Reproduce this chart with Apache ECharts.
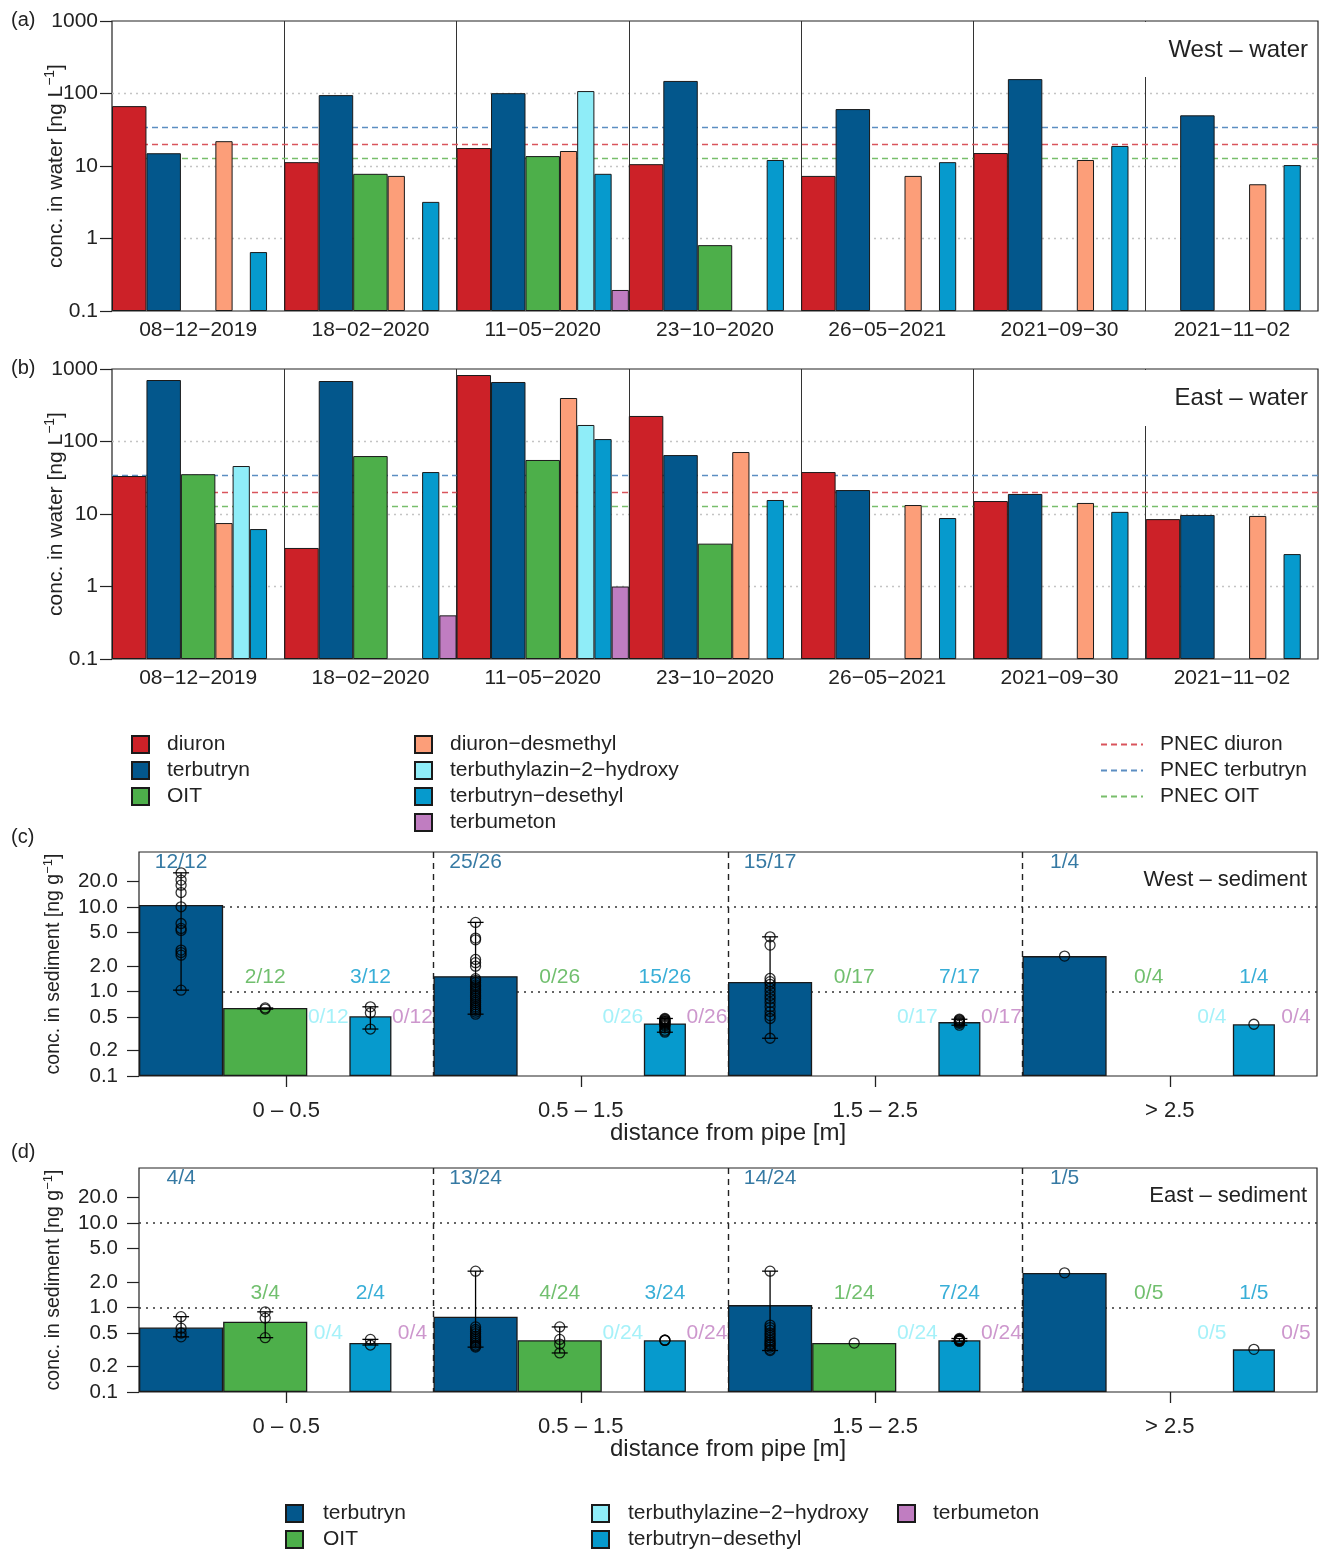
<!DOCTYPE html>
<html>
<head>
<meta charset="utf-8">
<script src="https://cdn.jsdelivr.net/npm/echarts@6.0.0/dist/echarts.min.js"></script>
<style>
  html, body { margin: 0; padding: 0; background: #fff; }
  #chart { width: 1325px; height: 1551px; }
</style>
</head>
<body>
<div id="chart"></div>
<script>
const FONT = 'Liberation Sans, Arial, sans-serif'

// ---- water panels (a) West, (b) East, ng/L ----
const waterDates = ['08−12−2019', '18−02−2020', '11−05−2020', '23−10−2020', '26−05−2021', '2021−09−30', '2021−11−02']
const waterTickLabels = ['0.1', '1', '10', '100', '1000']

const westDiuron = [67, 11.3, 17.7, 10.6, 7.3, 15.1, null]
const westTerbutryn = [15, 95, 101, 149, 61, 158, 50]
const westOIT = [null, 7.8, 13.7, 0.81, null, null, null]
const westDiuronDesmethyl = [22, 7.3, 16.1, null, 7.3, 12.1, 5.6]
const westTbzHydroxy = [null, null, 108, null, null, null, null]
const westDesethyl = [0.65, 3.2, 7.8, 12.1, 11.3, 18.9, 10.3]
const westTerbumeton = [null, null, 0.195, null, null, null, null]

const eastDiuron = [33.4, 3.4, 826, 225, 37.9, 15.1, 8.5]
const eastTerbutryn = [705, 683, 662, 65, 21.4, 18.9, 9.7]
const eastOIT = [35.4, 63, 55.6, 3.9, null, null, null]
const eastDiuronDesmethyl = [7.5, null, 398, 71.6, 13.3, 14.2, 9.4]
const eastTbzHydroxy = [45.9, null, 169, null, null, null, null]
const eastDesethyl = [6.2, 37.9, 108, 15.6, 8.8, 10.7, 2.8]
const eastTerbumeton = [null, 0.4, 1.0, null, null, null, null]

const pnecNames = ['PNEC diuron', 'PNEC terbutryn', 'PNEC OIT']
const pnecValues = [20, 34, 13]

// ---- sediment panels (c) West, (d) East, ng/g ----
const distCats = ['0 – 0.5', '0.5 – 1.5', '1.5 – 2.5', '> 2.5']
const sedTickValues = [0.1, 0.2, 0.5, 1, 2, 5, 10, 20]
const sedRefLines = [1, 10]

const westSedTerbutryn = [10.6, 1.52, 1.3, 2.63]
const westSedOIT = [0.64, null, null, null]
const westSedTbz = [null, null, null, null]
const westSedDesethyl = [0.51, 0.42, 0.435, 0.41]
const westSedTerbumeton = [null, null, null, null]

const eastSedTerbutryn = [0.58, 0.78, 1.07, 2.57]
const eastSedOIT = [0.68, 0.41, 0.38, null]
const eastSedTbz = [null, null, null, null]
const eastSedDesethyl = [0.38, 0.41, 0.41, 0.32]
const eastSedTerbumeton = [null, null, null, null]

// individual samples
const westPtsTerbutryn = [
  [25.5, 20.9, 18.2, 14.9, 10.1, 6.4, 5.6, 5.3, 3.1, 2.9, 2.7, 1.04],
  [6.6, 4.3, 4.1, 2.4, 2.2, 2.0, 1.42, 1.36, 1.28, 1.2, 1.14, 1.07, 1.02, 0.97, 0.91, 0.87, 0.83, 0.78, 0.74, 0.7, 0.66, 0.63, 0.6, 0.57, 0.54],
  [4.45, 3.55, 1.43, 1.31, 1.22, 1.1, 1.0, 0.9, 0.82, 0.74, 0.66, 0.58, 0.52, 0.48, 0.28],
  [2.63],
]
const westPtsOIT = [[0.62, 0.64], [], [], []]
const westPtsDesethyl = [
  [0.66, 0.56, 0.36],
  [0.48, 0.47, 0.46, 0.45, 0.44, 0.44, 0.43, 0.42, 0.41, 0.4, 0.39, 0.37, 0.35, 0.34, 0.33],
  [0.47, 0.46, 0.45, 0.44, 0.43, 0.42, 0.4],
  [0.41],
]
const eastPtsTerbutryn = [
  [0.78, 0.57, 0.5, 0.45],
  [2.7, 0.59, 0.55, 0.52, 0.49, 0.46, 0.44, 0.42, 0.4, 0.38, 0.36, 0.35, 0.34],
  [2.7, 0.62, 0.58, 0.54, 0.5, 0.47, 0.44, 0.41, 0.39, 0.37, 0.36, 0.34, 0.32, 0.31],
  [2.58],
]
const eastPtsOIT = [[0.89, 0.75, 0.44], [0.59, 0.42, 0.37, 0.29], [0.38], []]
const eastPtsDesethyl = [[0.42, 0.36], [0.41, 0.41, 0.41], [0.43, 0.42, 0.42, 0.41, 0.41, 0.4, 0.4], [0.32]]

// detection counts
const westCountTerbutryn = ['12/12', '25/26', '15/17', '1/4']
const westCountOIT = ['2/12', '0/26', '0/17', '0/4']
const westCountTbz = ['0/12', '0/26', '0/17', '0/4']
const westCountDesethyl = ['3/12', '15/26', '7/17', '1/4']
const westCountTerbumeton = ['0/12', '0/26', '0/17', '0/4']

const eastCountTerbutryn = ['4/4', '13/24', '14/24', '1/5']
const eastCountOIT = ['3/4', '4/24', '1/24', '0/5']
const eastCountTbz = ['0/4', '0/24', '0/24', '0/5']
const eastCountDesethyl = ['2/4', '3/24', '7/24', '1/5']
const eastCountTerbumeton = ['0/4', '0/24', '0/24', '0/5']

// ---- styling ----
const C_DIURON = '#CC2128'
const C_TERB = '#03578C'
const C_OIT = '#4DAF4A'
const C_DD = '#FC9E79'
const C_TBZ = '#8FEDF8'
const C_DES = '#069ACD'
const C_TBM = '#C07DC1'

const waterNames = ['diuron', 'terbutryn', 'OIT', 'diuron−desmethyl', 'terbuthylazin−2−hydroxy', 'terbutryn−desethyl', 'terbumeton']
const waterColors = [C_DIURON, C_TERB, C_OIT, C_DD, C_TBZ, C_DES, C_TBM]
const waterBarWidths = ['20%', '20%', '20%', '10%', '10%', '10%', '10%']
const pnecColors = ['#D9545C', '#5C8EC2', '#78BE6B']

const sedNames = ['terbutryn', 'OIT', 'terbuthylazine−2−hydroxy', 'terbutryn−desethyl', 'terbumeton']
const sedColors = [C_TERB, C_OIT, C_TBZ, C_DES, C_TBM]
const sedBarWidths = [2, 2, 1, 1, 1].map(u => (u / 7) * 100 + '%')
const sedCenters = [1 / 7, 3 / 7, 4.5 / 7, 5.5 / 7, 6.5 / 7]
const countLevels = [34, 1.5, 0.5, 1.5, 0.5]

const lg = v => (v == null ? null : Math.log10(v) + 1)

const grids = [
  { left: 112, top: 21, width: 1206, height: 290 },
  { left: 112, top: 369, width: 1206, height: 290 },
  { left: 139, top: 852, width: 1178, height: 224 },
  { left: 139, top: 1168, width: 1178, height: 224 },
].map(g => ({ ...g, show: true, borderColor: '#222', borderWidth: 1.2, backgroundColor: 'transparent' }))

function waterXAxis(gi) {
  return {
    gridIndex: gi,
    type: 'category',
    data: waterDates,
    axisLine: { show: false },
    axisTick: { show: false },
    axisLabel: { fontSize: 21, color: '#222', margin: 9, interval: 0 },
    splitLine: { show: true, interval: 0, showMinLine: false, showMaxLine: false, lineStyle: { color: '#333', width: 1 } },
  }
}

function waterYAxis(gi) {
  return {
    gridIndex: gi,
    type: 'value',
    min: 0,
    max: 4,
    interval: 1,
    axisLine: { show: false },
    axisTick: { show: true, length: 12, lineStyle: { color: '#222', width: 1.2 } },
    axisLabel: { fontSize: 21, color: '#222', margin: 14, formatter: v => waterTickLabels[Math.round(v)] },
    splitLine: { show: true, showMinLine: false, showMaxLine: false, lineStyle: { color: '#c4c4c4', type: [2, 4], width: 1.4 } },
    name: '{a|conc. in water [ng L}{s|−1}{a|]}',
    nameLocation: 'middle',
    nameGap: 43,
    nameMoveOverlap: false,
    nameTextStyle: {
      rich: {
        a: { fontSize: 21, color: '#222', fontFamily: FONT, lineHeight: 26 },
        s: { fontSize: 14, color: '#222', fontFamily: FONT, verticalAlign: 'top' },
      },
    },
  }
}

function sedXAxis(gi) {
  return {
    gridIndex: gi,
    type: 'category',
    data: distCats,
    axisLine: { show: false },
    axisTick: { show: true, alignWithLabel: true, length: 11, lineStyle: { color: '#222', width: 1.3 } },
    axisLabel: { fontSize: 22, color: '#222', margin: 24, interval: 0 },
    splitLine: { show: true, interval: 0, showMinLine: false, showMaxLine: false, lineStyle: { color: '#222', type: [6, 5], width: 1.4 } },
    name: 'distance from pipe [m]',
    nameLocation: 'middle',
    nameGap: 45,
    nameMoveOverlap: false,
    nameTextStyle: { fontSize: 24, color: '#222' },
  }
}

function sedYAxis(gi) {
  const ticks = sedTickValues.map(lg)
  return {
    gridIndex: gi,
    type: 'value',
    min: 0,
    max: lg(45),
    axisLine: { show: false },
    axisTick: { show: true, length: 12, customValues: ticks, lineStyle: { color: '#222', width: 1.2 } },
    axisLabel: {
      fontSize: 20.5,
      color: '#222',
      margin: 21,
      customValues: ticks,
      formatter: v => Math.pow(10, v - 1).toFixed(1),
    },
    splitLine: { show: false },
    name: '{a|conc. in sediment [ng g}{s|−1}{a|]}',
    nameLocation: 'middle',
    nameGap: 73,
    nameMoveOverlap: false,
    nameTextStyle: {
      rich: {
        a: { fontSize: 19.5, color: '#222', fontFamily: FONT, lineHeight: 24 },
        s: { fontSize: 13, color: '#222', fontFamily: FONT, verticalAlign: 'top' },
      },
    },
  }
}

function waterSeries(gi, arrays) {
  const out = waterNames.map((name, k) => ({
    name,
    type: 'bar',
    xAxisIndex: gi,
    yAxisIndex: gi,
    barWidth: waterBarWidths[k],
    barGap: '0%',
    barCategoryGap: '0%',
    itemStyle: { color: waterColors[k], borderColor: '#1a1a1a', borderWidth: 1 },
    data: arrays[k].map(lg),
    z: 2,
  }))
  pnecNames.forEach((name, k) => {
    out.push({
      name,
      type: 'line',
      xAxisIndex: gi,
      yAxisIndex: gi,
      data: [],
      symbol: 'none',
      itemStyle: { color: 'rgba(0,0,0,0)', borderColor: 'rgba(0,0,0,0)', borderWidth: 0 },
      lineStyle: { color: pnecColors[k], type: [6, 4], width: 1.3 },
      z: 1,
      markLine: {
        silent: true,
        symbol: 'none',
        z: 1,
        label: { show: false },
        lineStyle: { color: pnecColors[k], type: [6, 4], width: 1.3 },
        data: [{ yAxis: lg(pnecValues[k]) }],
      },
    })
  })
  return out
}

function whiskerItem(params, api) {
  const x = api.value(0)
  const a = api.coord([x, api.value(1)])
  const b = api.coord([x, api.value(2)])
  const h = 8
  const style = { stroke: '#000', lineWidth: 1.3 }
  return {
    type: 'group',
    children: [
      { type: 'line', shape: { x1: a[0], y1: a[1], x2: b[0], y2: b[1] }, style },
      { type: 'line', shape: { x1: a[0] - h, y1: a[1], x2: a[0] + h, y2: a[1] }, style },
      { type: 'line', shape: { x1: b[0] - h, y1: b[1], x2: b[0] + h, y2: b[1] }, style },
    ],
  }
}

function sedimentSeries(gi, vi, bars, pts, counts) {
  const out = sedNames.map((name, k) => ({
    name,
    type: 'bar',
    xAxisIndex: gi,
    yAxisIndex: gi,
    barWidth: sedBarWidths[k],
    barGap: '0%',
    barCategoryGap: '0%',
    itemStyle: { color: sedColors[k], borderColor: '#1a1a1a', borderWidth: 1.3 },
    data: bars[k].map(lg),
    z: 2,
  }))
  out.push({
    type: 'line',
    xAxisIndex: gi,
    yAxisIndex: gi,
    data: [],
    z: 1,
    markLine: {
      silent: true,
      symbol: 'none',
      z: 1,
      label: { show: false },
      lineStyle: { color: '#333', type: [2, 5], width: 1.5 },
      data: sedRefLines.map(v => ({ yAxis: lg(v) })),
    },
  })

  const whiskers = []
  const points = []
  pts.forEach((groups, k) => {
    if (!groups) return
    groups.forEach((grp, i) => {
      const x = i + sedCenters[k]
      grp.forEach(v => points.push([x, lg(v)]))
      if (grp.length > 1) {
        const lo = Math.min(...grp)
        const hi = Math.max(...grp)
        if (hi > lo) whiskers.push([x, lg(lo), lg(hi)])
      }
    })
  })
  out.push({
    type: 'custom',
    xAxisIndex: vi,
    yAxisIndex: gi,
    renderItem: whiskerItem,
    encode: { x: 0, y: [1, 2] },
    data: whiskers,
    silent: true,
    z: 3,
  })
  out.push({
    type: 'scatter',
    xAxisIndex: vi,
    yAxisIndex: gi,
    symbol: 'circle',
    symbolSize: 10,
    itemStyle: { color: 'rgba(0,0,0,0)', borderColor: '#000', borderWidth: 1.3 },
    data: points,
    silent: true,
    z: 4,
  })
  counts.forEach((cs, k) => {
    out.push({
      type: 'scatter',
      xAxisIndex: vi,
      yAxisIndex: gi,
      symbolSize: 1,
      itemStyle: { color: 'rgba(0,0,0,0)' },
      label: { show: true, position: 'inside', formatter: '{b}', color: sedColors[k], fontSize: 21 },
      data: cs.map((c, i) => ({ name: c, value: [i + sedCenters[k], lg(countLevels[k])] })),
      silent: true,
      z: 5,
    })
  })
  return out
}

const legendBase = {
  orient: 'vertical',
  padding: 0,
  icon: 'rect',
  itemWidth: 17,
  itemHeight: 17,
  itemGap: 5,
  selectedMode: false,
  textStyle: { fontSize: 21, color: '#222', lineHeight: 20, padding: [0, 0, 0, 13] },
}

const chart = echarts.init(document.getElementById('chart'))
chart.setOption({
  animation: false,
  backgroundColor: '#fff',
  textStyle: { fontFamily: FONT },
  grid: grids,
  xAxis: [
    waterXAxis(0),
    waterXAxis(1),
    sedXAxis(2),
    sedXAxis(3),
    { gridIndex: 2, type: 'value', min: 0, max: 4, show: false },
    { gridIndex: 3, type: 'value', min: 0, max: 4, show: false },
  ],
  yAxis: [waterYAxis(0), waterYAxis(1), sedYAxis(2), sedYAxis(3)],
  legend: [
    { ...legendBase, left: 131, top: 734, data: waterNames.slice(0, 3) },
    { ...legendBase, left: 414, top: 734, data: waterNames.slice(3) },
    { ...legendBase, icon: null, left: 1100, top: 734, itemWidth: 42, itemHeight: 17, data: pnecNames, textStyle: { ...legendBase.textStyle, padding: [0, 0, 0, 12] } },
    { ...legendBase, left: 285, top: 1503, data: sedNames.slice(0, 2), textStyle: { ...legendBase.textStyle, padding: [0, 0, 0, 15] } },
    { ...legendBase, left: 591, top: 1503, data: sedNames.slice(2, 4), textStyle: { ...legendBase.textStyle, padding: [0, 0, 0, 14] } },
    { ...legendBase, left: 897, top: 1503, data: sedNames.slice(4), textStyle: { ...legendBase.textStyle, padding: [0, 0, 0, 13] } },
  ],
  graphic: [
    { type: 'rect', shape: { x: 1140, y: 22, width: 176, height: 55 }, style: { fill: '#fff' }, z: 100, silent: true },
    { type: 'rect', shape: { x: 1140, y: 370, width: 176, height: 56 }, style: { fill: '#fff' }, z: 100, silent: true },
    { type: 'text', x: 1308, y: 50, z: 101, style: { text: 'West – water', font: '24px ' + FONT, fill: '#222', align: 'right', verticalAlign: 'middle' } },
    { type: 'text', x: 1308, y: 398, z: 101, style: { text: 'East – water', font: '24px ' + FONT, fill: '#222', align: 'right', verticalAlign: 'middle' } },
    { type: 'text', x: 1307, y: 880, z: 101, style: { text: 'West – sediment', font: '22px ' + FONT, fill: '#222', align: 'right', verticalAlign: 'middle' } },
    { type: 'text', x: 1307, y: 1196, z: 101, style: { text: 'East – sediment', font: '22px ' + FONT, fill: '#222', align: 'right', verticalAlign: 'middle' } },
    { type: 'text', x: 11, y: 20, z: 101, style: { text: '(a)', font: '20px ' + FONT, fill: '#222', verticalAlign: 'middle' } },
    { type: 'text', x: 11, y: 368, z: 101, style: { text: '(b)', font: '20px ' + FONT, fill: '#222', verticalAlign: 'middle' } },
    { type: 'text', x: 11, y: 837, z: 101, style: { text: '(c)', font: '20px ' + FONT, fill: '#222', verticalAlign: 'middle' } },
    { type: 'text', x: 11, y: 1152, z: 101, style: { text: '(d)', font: '20px ' + FONT, fill: '#222', verticalAlign: 'middle' } },
  ],
  series: [
    ...waterSeries(0, [westDiuron, westTerbutryn, westOIT, westDiuronDesmethyl, westTbzHydroxy, westDesethyl, westTerbumeton]),
    ...waterSeries(1, [eastDiuron, eastTerbutryn, eastOIT, eastDiuronDesmethyl, eastTbzHydroxy, eastDesethyl, eastTerbumeton]),
    ...sedimentSeries(2, 4,
      [westSedTerbutryn, westSedOIT, westSedTbz, westSedDesethyl, westSedTerbumeton],
      [westPtsTerbutryn, westPtsOIT, null, westPtsDesethyl, null],
      [westCountTerbutryn, westCountOIT, westCountTbz, westCountDesethyl, westCountTerbumeton]),
    ...sedimentSeries(3, 5,
      [eastSedTerbutryn, eastSedOIT, eastSedTbz, eastSedDesethyl, eastSedTerbumeton],
      [eastPtsTerbutryn, eastPtsOIT, null, eastPtsDesethyl, null],
      [eastCountTerbutryn, eastCountOIT, eastCountTbz, eastCountDesethyl, eastCountTerbumeton]),
  ],
})
</script>
</body>
</html>
